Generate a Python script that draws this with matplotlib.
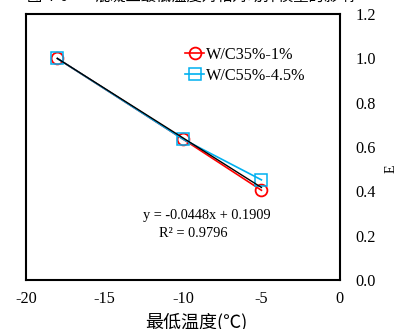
import numpy as np
import matplotlib.pyplot as plt

plt.rcParams['font.family'] = ['Liberation Serif', 'Noto Sans CJK SC']
plt.rcParams['axes.unicode_minus'] = False

temps = [-18, -10, -5]
e_wc35 = [1.0, 0.636, 0.405]
e_wc55 = [1.0, 0.636, 0.452]
slope, intercept = -0.0448, 0.1909
r2 = 0.9796

fig = plt.figure(figsize=(4.12, 3.29), dpi=100)
ax = fig.add_axes([0.063, 0.149, 0.762, 0.808])

ax.plot(temps, e_wc35, color='#ff0000', lw=1.2, marker='o', ms=8.5,
        mfc='none', mew=1.3, label='W/C35%-1%')
ax.plot(temps, e_wc55, color='#00b0f0', lw=1.2, marker='s', ms=8,
        mfc='none', mew=1.1, label='W/C55%-4.5%')

# trendline (shifted so it starts at the first point, as in the source)
xt = np.array([temps[0], temps[-1]])
ax.plot(xt, slope * xt + intercept + 1.0 - (slope * temps[0] + intercept), color='black', lw=1.0)

ax.set_xlim(-20, 0)
ax.set_ylim(0, 1.2)
ax.set_xticks([-20, -15, -10, -5, 0])
ax.set_yticks(np.arange(0, 1.21, 0.2))
ax.yaxis.set_major_formatter(plt.FormatStrFormatter('%.1f'))
ax.yaxis.tick_right()
ax.yaxis.set_label_position('right')
ax.tick_params(length=0, labelsize=11.7, pad=8)
ax.tick_params(axis='y', pad=11)

for sp in ax.spines.values():
    sp.set_linewidth(1.5)

ax.set_ylabel('E', fontsize=10)
ax.yaxis.set_label_coords(1.143, 0.417)
ax.set_xlabel('最低温度(℃)', fontsize=13, family=['Noto Sans CJK SC', 'Liberation Serif'])
ax.xaxis.set_label_coords(0.541, -0.125)

ax.text(-8.45, 0.293, f'y = {slope}x + {intercept}', ha='center', va='center', fontsize=10.3)
ax.text(-9.36, 0.212, f'R² = {r2}', ha='center', va='center', fontsize=10.3)

ax.legend(loc='upper left', bbox_to_anchor=(0.47, 0.92), frameon=False, fontsize=11.7,
          handlelength=1.2, handletextpad=0.1, borderpad=0.2, labelspacing=0.3)

fig.text(0.066, 1.012, '图 4-6        混凝土最低温度对相对动弹模量的影响', fontsize=11,
         family=['Noto Sans CJK SC'], va='center', ha='left')

fig.savefig('out.png', dpi=100)
